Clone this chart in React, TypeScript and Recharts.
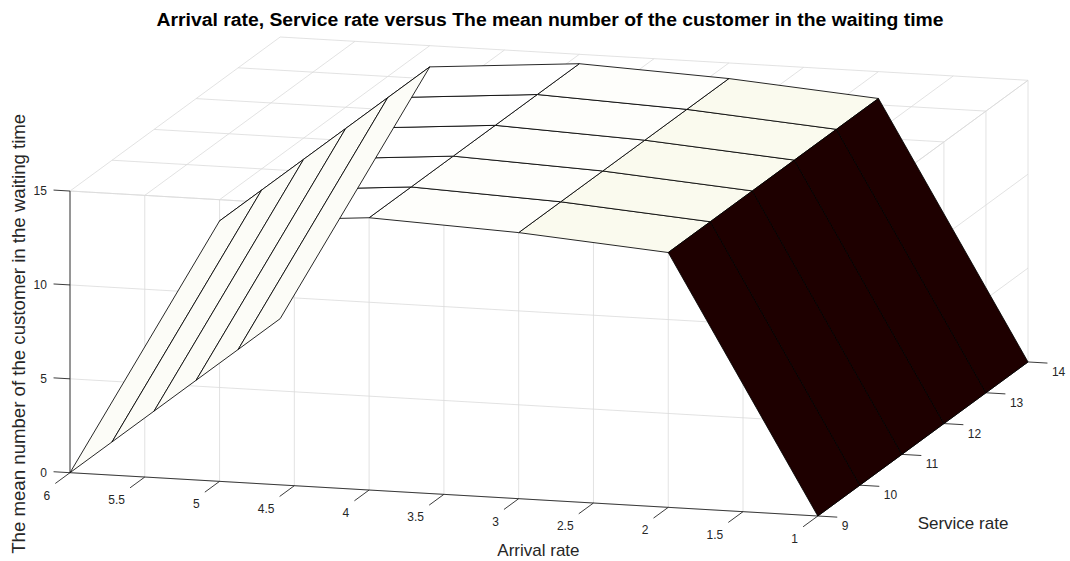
import React from 'react';
import { ScatterChart, Scatter, XAxis, YAxis } from 'recharts';

// ---- data ----
const arrivalRates = [1, 2, 3, 4, 5, 6];
const serviceRates = [9, 10, 11, 12, 13, 14];
// mean number of customers waiting: one row per service rate, one column per arrival rate
const meanWaiting = [
  [0, 13.57, 14.17, 14.5, 13.87, 0],
  [0, 13.57, 14.17, 14.5, 13.87, 0],
  [0, 13.57, 14.17, 14.5, 13.87, 0],
  [0, 13.57, 14.17, 14.5, 13.87, 0],
  [0, 13.57, 14.17, 14.5, 13.87, 0],
  [0, 13.57, 14.17, 14.5, 13.87, 0],
];

const arrivalTicks = [1, 1.5, 2, 2.5, 3, 3.5, 4, 4.5, 5, 5.5, 6];
const arrivalTickLabels = ['1', '1.5', '2', '2.5', '3', '3.5', '4', '4.5', '5', '5.5', '6'];
const serviceTicks = [9, 10, 11, 12, 13, 14];
const serviceTickLabels = ['9', '10', '11', '12', '13', '14'];
const meanTicks = [0, 5, 10, 15];
const meanTickLabels = ['0', '5', '10', '15'];

const TITLE = 'Arrival rate, Service rate versus The mean number of the customer in the waiting time';
const X_LABEL = 'Arrival rate';
const Y_LABEL = 'Service rate';
const Z_LABEL = 'The mean number of the customer in the waiting time';

// ---- view / layout ----
const W = 1070;
const H = 561;
const X_LIM: [number, number] = [1, 6];
const Y_LIM: [number, number] = [9, 14];
const Z_LIM: [number, number] = [0, 15];
const VIEW_AZ = 164.3;
const VIEW_EL = -29.6;
// pixel bounds that the projected axes box is stretched to fill
const BOX = { left: 70, right: 1028, top: 37, bottom: 516 };

const FONT = '"Liberation Sans", Arial, Helvetica, sans-serif';
const AXIS_COLOR = '#262626';
const GRID_COLOR = '#dadada';
const EDGE_COLOR = '#000000';

type P = { h: number; v: number; label?: string };

const az = (VIEW_AZ * Math.PI) / 180;
const el = (VIEW_EL * Math.PI) / 180;

// orthographic projection of a data point (normalised box, unit aspect)
function project(x: number, y: number, z: number) {
  const xn = (x - X_LIM[0]) / (X_LIM[1] - X_LIM[0]);
  const yn = (y - Y_LIM[0]) / (Y_LIM[1] - Y_LIM[0]);
  const zn = (z - Z_LIM[0]) / (Z_LIM[1] - Z_LIM[0]);
  const h = xn * Math.cos(az) + yn * Math.sin(az);
  const v = -xn * Math.sin(az) * Math.sin(el) + yn * Math.cos(az) * Math.sin(el) + zn * Math.cos(el);
  const depth = xn * Math.sin(az) * Math.cos(el) - yn * Math.cos(az) * Math.cos(el) + zn * Math.sin(el);
  return { h, v, depth };
}
const pt = (x: number, y: number, z: number, label?: string): P => {
  const p = project(x, y, z);
  return label === undefined ? { h: p.h, v: p.v } : { h: p.h, v: p.v, label };
};

// axis domains so the box lands on its pixel bounds and the rest of the canvas extrapolates
const corners: { h: number; v: number }[] = [];
X_LIM.forEach((x) => Y_LIM.forEach((y) => Z_LIM.forEach((z) => corners.push(project(x, y, z)))));
const hMin = Math.min(...corners.map((c) => c.h));
const hMax = Math.max(...corners.map((c) => c.h));
const vMin = Math.min(...corners.map((c) => c.v));
const vMax = Math.max(...corners.map((c) => c.v));
const kx = (BOX.right - BOX.left) / (hMax - hMin);
const ky = (BOX.bottom - BOX.top) / (vMax - vMin);
const hDomain: [number, number] = [hMin - BOX.left / kx, hMin + (W - BOX.left) / kx];
const vDomain: [number, number] = [vMin - (H - BOX.bottom) / ky, vMax + BOX.top / ky];

// MATLAB-style "pink" colormap (64 entries)
function pinkColor(c: number, cmin: number, cmax: number, m = 64) {
  let idx = Math.floor(((c - cmin) / (cmax - cmin)) * m);
  idx = Math.max(0, Math.min(m - 1, idx));
  const n = Math.floor((3 / 8) * m);
  const k = idx + 1;
  const r = k <= n ? k / n : 1;
  const g = k <= n ? 0 : k <= 2 * n ? (k - n) / n : 1;
  const b = k <= 2 * n ? 0 : (k - 2 * n) / (m - 2 * n);
  const gray = idx / (m - 1);
  const f = (hot: number) => Math.round(255 * Math.sqrt((2 * gray + hot) / 3));
  return `rgb(${f(r)},${f(g)},${f(b)})`;
}

const allZ = meanWaiting.flat();
const cMin = Math.min(...allZ);
const cMax = Math.max(...allZ);

// surface faces, painted far to near
type Face = { pts: P[]; fill: string; depth: number; key: string };
const faces: Face[] = [];
for (let j = 0; j < serviceRates.length - 1; j++) {
  for (let i = 0; i < arrivalRates.length - 1; i++) {
    const verts: [number, number, number][] = [
      [arrivalRates[i], serviceRates[j], meanWaiting[j][i]],
      [arrivalRates[i + 1], serviceRates[j], meanWaiting[j][i + 1]],
      [arrivalRates[i + 1], serviceRates[j + 1], meanWaiting[j + 1][i + 1]],
      [arrivalRates[i], serviceRates[j + 1], meanWaiting[j + 1][i]],
    ];
    const depth = verts.reduce((s, q) => s + project(q[0], q[1], q[2]).depth, 0) / 4;
    faces.push({
      pts: verts.map((q) => pt(q[0], q[1], q[2])),
      fill: pinkColor(meanWaiting[j][i], cMin, cMax),
      depth,
      key: `f-${i}-${j}`,
    });
  }
}
faces.sort((a, b) => a.depth - b.depth);

// background grid on the three back planes (y = 9 wall, x = 1 wall, z = 15 ceiling)
const gridPts: P[] = [];
const seg = (arr: P[], a: [number, number, number], b: [number, number, number]) => {
  arr.push(pt(a[0], a[1], a[2]), pt(b[0], b[1], b[2]));
};
arrivalTicks.forEach((x) => {
  seg(gridPts, [x, Y_LIM[0], Z_LIM[0]], [x, Y_LIM[0], Z_LIM[1]]);
  seg(gridPts, [x, Y_LIM[0], Z_LIM[1]], [x, Y_LIM[1], Z_LIM[1]]);
});
serviceTicks.forEach((y) => {
  seg(gridPts, [X_LIM[0], y, Z_LIM[0]], [X_LIM[0], y, Z_LIM[1]]);
  seg(gridPts, [X_LIM[0], y, Z_LIM[1]], [X_LIM[1], y, Z_LIM[1]]);
});
meanTicks.forEach((z) => {
  seg(gridPts, [X_LIM[0], Y_LIM[0], z], [X_LIM[1], Y_LIM[0], z]);
  seg(gridPts, [X_LIM[0], Y_LIM[0], z], [X_LIM[0], Y_LIM[1], z]);
});

// axis lines and tick marks
const axisPts: P[] = [];
seg(axisPts, [X_LIM[0], Y_LIM[0], Z_LIM[0]], [X_LIM[1], Y_LIM[0], Z_LIM[0]]);
seg(axisPts, [X_LIM[0], Y_LIM[0], Z_LIM[0]], [X_LIM[0], Y_LIM[1], Z_LIM[0]]);
seg(axisPts, [X_LIM[1], Y_LIM[0], Z_LIM[0]], [X_LIM[1], Y_LIM[0], Z_LIM[1]]);
arrivalTicks.forEach((x) => seg(axisPts, [x, Y_LIM[0], Z_LIM[0]], [x, Y_LIM[0] - 0.35, Z_LIM[0]]));
serviceTicks.forEach((y) => seg(axisPts, [X_LIM[0], y, Z_LIM[0]], [X_LIM[0] - 0.13, y, Z_LIM[0]]));
meanTicks.forEach((z) => seg(axisPts, [X_LIM[1], Y_LIM[0], z], [X_LIM[1] + 0.11, Y_LIM[0], z]));

// tick label anchors
const arrivalLabelPts = arrivalTicks.map((x, k) => pt(x, Y_LIM[0] - 0.472, Z_LIM[0] - 0.665, arrivalTickLabels[k]));
const serviceLabelPts = serviceTicks.map((y, k) => pt(X_LIM[0] - 0.16, y, Z_LIM[0] - 0.67, serviceTickLabels[k]));
const meanLabelPts = meanTicks.map((z, k) => pt(X_LIM[1] + 0.154, Y_LIM[0], z - 0.285, meanTickLabels[k]));

// axis title anchors
const xTitlePts = [pt(2.39, Y_LIM[0] - 1.7, Z_LIM[0], X_LABEL)];
const yTitlePts = [pt(X_LIM[0] - 1.011, Y_LIM[0] - 0.143, Z_LIM[0], Y_LABEL)];
const zTitlePts = [pt(X_LIM[1] + 0.3, Y_LIM[0], 7.26, Z_LABEL)];

// ---- renderers ----
const noPoint = () => <g />;

const segmentsLine = (stroke: string, width: number) => (props: any) => {
  const p = props.points || [];
  let d = '';
  for (let i = 0; i + 1 < p.length; i += 2) {
    d += `M${p[i].x},${p[i].y}L${p[i + 1].x},${p[i + 1].y}`;
  }
  return <path d={d} stroke={stroke} strokeWidth={width} fill="none" />;
};

const polygonLine = (fill: string) => (props: any) => {
  const p = props.points || [];
  const s = p.map((q: any) => `${q.x},${q.y}`).join(' ');
  return <polygon points={s} fill={fill} stroke={EDGE_COLOR} strokeWidth={0.85} strokeLinejoin="round" />;
};

const textShape =
  (anchor: 'start' | 'middle' | 'end', size: number, rotate = 0, length?: number) =>
  (props: any) => {
    const label = props.payload?.label ?? props.label;
    return (
      <text
        x={props.cx}
        y={props.cy}
        textAnchor={anchor}
        fontFamily={FONT}
        fontSize={size}
        fill={AXIS_COLOR}
        textLength={length}
        lengthAdjust={length ? 'spacingAndGlyphs' : undefined}
        transform={rotate ? `rotate(${rotate} ${props.cx} ${props.cy})` : undefined}
      >
        {label}
      </text>
    );
  };

export default function App() {
  return (
    <div style={{ position: 'absolute', left: 0, top: 0, width: W, height: H, background: '#ffffff' }}>
      <ScatterChart width={W} height={H} margin={{ top: 0, right: 0, bottom: 0, left: 0 }}>
        <XAxis type="number" dataKey="h" domain={hDomain} hide allowDataOverflow />
        <YAxis type="number" dataKey="v" domain={vDomain} hide allowDataOverflow />
        <Scatter data={gridPts} line={segmentsLine(GRID_COLOR, 0.8)} shape={noPoint} isAnimationActive={false} />
        <Scatter data={axisPts} line={segmentsLine(AXIS_COLOR, 0.9)} shape={noPoint} isAnimationActive={false} />
        {faces.map((f) => (
          <Scatter key={f.key} data={f.pts} line={polygonLine(f.fill)} shape={noPoint} isAnimationActive={false} />
        ))}
        <Scatter data={arrivalLabelPts} shape={textShape('end', 12)} isAnimationActive={false} />
        <Scatter data={serviceLabelPts} shape={textShape('start', 12)} isAnimationActive={false} />
        <Scatter data={meanLabelPts} shape={textShape('end', 12)} isAnimationActive={false} />
        <Scatter data={xTitlePts} shape={textShape('middle', 17)} isAnimationActive={false} />
        <Scatter data={yTitlePts} shape={textShape('middle', 17)} isAnimationActive={false} />
        <Scatter data={zTitlePts} shape={textShape('middle', 18, -90, 440)} isAnimationActive={false} />
      </ScatterChart>
      <svg width={W} height={40} style={{ position: 'absolute', left: 0, top: 0, pointerEvents: 'none' }}>
        <text
          x={550}
          y={26}
          textAnchor="middle"
          fontFamily={FONT}
          fontWeight="bold"
          fontSize={18}
          fill="#000"
          textLength={787}
          lengthAdjust="spacingAndGlyphs"
        >
          {TITLE}
        </text>
      </svg>
    </div>
  );
}
